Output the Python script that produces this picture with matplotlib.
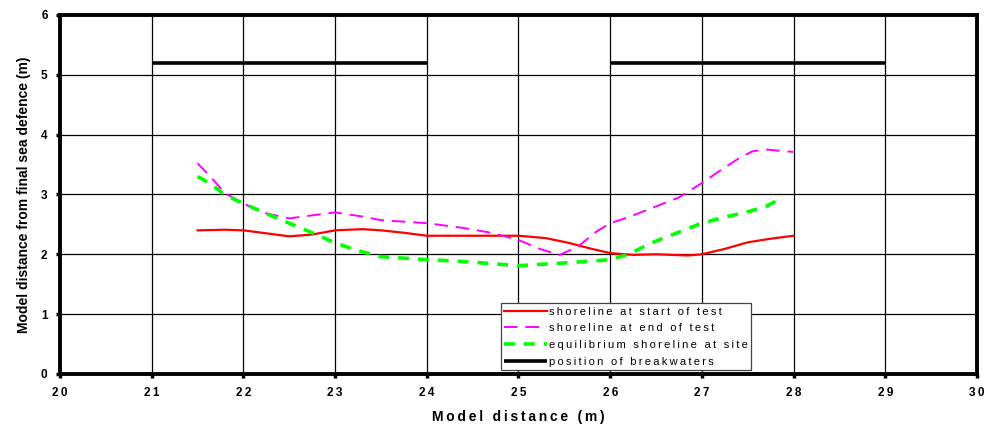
import numpy as np
import matplotlib.pyplot as plt

plt.rcParams['font.family'] = ['Liberation Sans', 'DejaVu Sans']
plt.rcParams['font.weight'] = 'bold'

# shoreline at start of test
x_start = [21.5, 21.8, 22.0, 22.25, 22.5, 22.75, 23.0, 23.3, 23.5, 23.75, 24.0, 24.5, 25.0, 25.3, 25.55, 25.8, 26.0, 26.25, 26.5, 26.85, 27.0, 27.25, 27.5, 27.75, 28.0]
y_start = [2.4, 2.41, 2.4, 2.35, 2.3, 2.33, 2.4, 2.42, 2.4, 2.36, 2.31, 2.31, 2.31, 2.27, 2.19, 2.09, 2.02, 1.99, 2.0, 1.98, 2.0, 2.09, 2.2, 2.26, 2.31]

# shoreline at end of test
x_end = [21.5, 21.65, 21.8, 22.0, 22.2, 22.5, 22.8, 23.0, 23.3, 23.5, 24.0, 24.4, 24.7, 25.0, 25.25, 25.45, 25.65, 25.85, 26.0, 26.2, 26.45, 26.75, 27.0, 27.2, 27.4, 27.55, 27.7, 27.85, 28.0]
y_end = [3.52, 3.28, 3.02, 2.85, 2.7, 2.6, 2.66, 2.7, 2.63, 2.57, 2.52, 2.44, 2.36, 2.24, 2.08, 1.99, 2.13, 2.38, 2.52, 2.62, 2.77, 2.95, 3.19, 3.4, 3.6, 3.72, 3.75, 3.73, 3.71]

# equilibrium shoreline at site
x_eq = [21.5, 21.65, 21.8, 22.0, 22.25, 22.5, 22.75, 23.0, 23.25, 23.5, 24.0, 24.4, 25.0, 25.55, 26.0, 26.2, 26.45, 26.75, 27.0, 27.25, 27.5, 27.7, 27.87]
y_eq = [3.3, 3.17, 2.99, 2.85, 2.68, 2.52, 2.36, 2.19, 2.06, 1.96, 1.91, 1.88, 1.81, 1.86, 1.91, 2.0, 2.19, 2.37, 2.52, 2.62, 2.71, 2.8, 2.94]

# position of breakwaters
bw_x = [[21, 24], [26, 29]]
bw_y = 5.2

xticks = list(range(20, 31))
yticks = list(range(0, 7))

def spaced(s, sep='\u2009'):
    return sep.join(s)

fig = plt.figure(figsize=(9.87, 4.25), dpi=100)
ax = fig.add_axes([0.0608, 0.12, 0.929, 0.845])

ax.plot(x_start, y_start, color='#ff0000', lw=1.6, label=spaced('shoreline at start of test'), zorder=4)
ax.plot(x_end, y_end, color='#ff00ff', lw=1.4, dashes=(7, 4), label=spaced('shoreline at end of test'), zorder=4)
ax.plot(x_eq, y_eq, color='#00ff00', lw=2.6, dashes=(3, 2.5), label=spaced('equilibrium shoreline at site'), zorder=4)
for i, seg in enumerate(bw_x):
    ax.plot(seg, [bw_y, bw_y], color='black', lw=2.6, solid_capstyle='butt',
            label=spaced('position of breakwaters') if i == 0 else None, zorder=4)

ax.set_xlim(20, 30)
ax.set_ylim(0, 6)
ax.set_xticks(xticks)
ax.set_yticks(yticks)
ax.set_xticklabels([spaced(str(t)) for t in xticks], fontsize=8.5, fontweight='bold')
ax.set_yticklabels([str(t) for t in yticks], fontsize=8.5, fontweight='bold')
ax.grid(True, color='black', lw=0.9)
ax.set_axisbelow(True)
for s in ax.spines.values():
    s.set_linewidth(2.8)
ax.tick_params(direction='out', length=3, width=2.5, pad=6)

ax.set_xlabel(spaced('Model distance (m)'), fontsize=10, fontweight='bold', labelpad=8)
ax.set_ylabel('Model distance from final sea defence (m)', fontsize=10, fontweight='bold', labelpad=7)

leg = ax.legend(loc='lower left', bbox_to_anchor=(0.481, 0.011), borderaxespad=0,
                fancybox=False, framealpha=1, edgecolor='#444444', fontsize=8,
                handlelength=3.8, handletextpad=0.2, labelspacing=0.6, borderpad=0.3)
leg.get_frame().set_linewidth(0.9)
for t in leg.get_texts():
    t.set_fontweight('normal')

fig.savefig('out.png', dpi=100)
